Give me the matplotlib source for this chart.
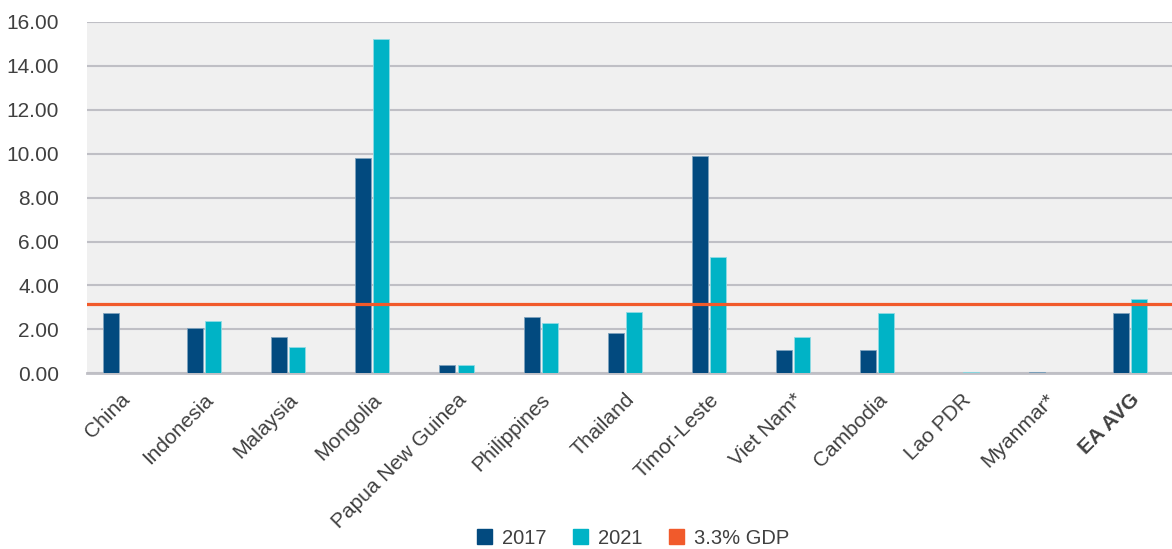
import numpy as np
import matplotlib
matplotlib.use('Agg')
import matplotlib.pyplot as plt
from matplotlib.patches import Patch

# ── 데이터 ──
countries = ['China', 'Indonesia', 'Malaysia', 'Mongolia', 'Papua New Guinea',
             'Philippines', 'Thailand', 'Timor-Leste', 'Viet Nam*', 'Cambodia',
             'Lao PDR', 'Myanmar*', 'EA AVG']
vals_2017 = [2.73, 2.05, 1.64, 9.82, 0.38, 2.56, 1.82, 9.90, 1.06, 1.06, 0.0, 0.08, 2.73]
vals_2021 = [0.0, 2.40, 1.21, 15.24, 0.38, 2.31, 2.81, 5.31, 1.64, 2.73, 0.08, 0.0, 3.38]
gdp_line = 3.14
yticks = [0, 2, 4, 6, 8, 10, 12, 14, 16]

C2017 = '#024a7f'
C2021 = '#00b3c6'
CLINE = '#f15a2b'
GRID = '#bfbfc5'

plt.rcParams['font.family'] = ['Liberation Sans', 'DejaVu Sans']

fig = plt.figure(figsize=(11.72, 5.49), dpi=100)
ax = fig.add_axes([0.0742, 0.32, 0.9258, 0.64])
ax.set_facecolor('#f0f0f0')

x = np.arange(len(countries))
w = 0.19
off = 0.107
ax.bar(x - off, vals_2017, w, color=C2017, edgecolor='#7fa2bd', linewidth=0.6, zorder=6)
ax.bar(x + off, vals_2021, w, color=C2021, edgecolor='#8fdbe4', linewidth=0.6, zorder=6)
ax.axhline(gdp_line, color=CLINE, linewidth=2.3, zorder=7)

ax.set_ylim(0, 16)
ax.set_xlim(-0.39, 12.5)
ax.set_yticks(yticks)
ax.set_yticklabels([f'{v:.2f}' for v in yticks], fontsize=15, color='#404040')
ax.yaxis.grid(True, color=GRID, linewidth=1.5, zorder=1)
ax.set_axisbelow(True)
ax.tick_params(axis='x', length=0, pad=12)
ax.tick_params(axis='y', length=0, pad=20)

for s in ['top', 'right', 'left']:
    ax.spines[s].set_visible(False)
ax.spines['bottom'].set_color(GRID)
ax.spines['bottom'].set_linewidth(2)
ax.spines['bottom'].set_zorder(5)

ax.set_xticks(x)
ax.set_xticklabels(countries, rotation=45, ha='right', rotation_mode='anchor',
                   fontsize=15, color='#404040')
ax.get_xticklabels()[-1].set_fontweight('bold')

handles = [Patch(color=C2017, label='2017'),
           Patch(color=C2021, label='2021'),
           Patch(color=CLINE, label='3.3% GDP')]
leg = fig.legend(handles=handles, loc='center', bbox_to_anchor=(0.54, 0.02),
                 ncol=3, frameon=False, fontsize=14.5, handlelength=0.75,
                 handleheight=0.75, handletextpad=0.5, columnspacing=1.3,
                 borderpad=0.2)
for t in leg.get_texts():
    t.set_color('#404040')

plt.savefig('out.png', dpi=100)
plt.close()
